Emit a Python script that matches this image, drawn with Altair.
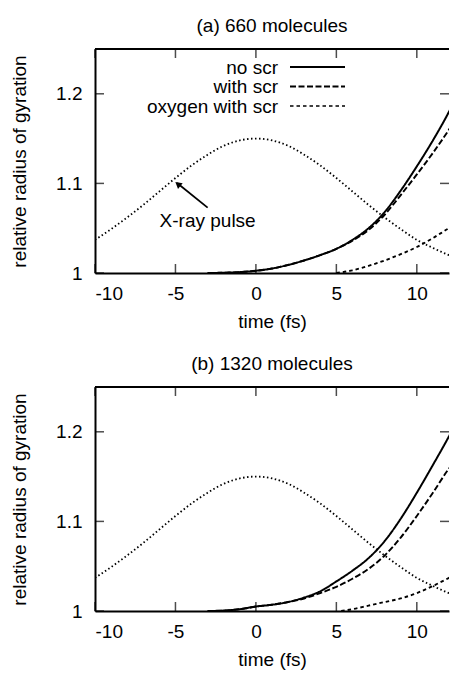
import altair as alt
import pandas as pd

FONT = "Liberation Sans"
FS = 19

# ---------------- data ----------------
PULSE_T = [-10, -9, -8, -7, -6, -5, -4, -3, -2, -1, 0, 1, 2, 3, 4, 5, 6, 7, 8, 9, 10, 11, 12, 12.5]
PULSE_R = [1.037, 1.049, 1.062, 1.076, 1.091, 1.106, 1.120, 1.132, 1.142, 1.148, 1.150, 1.148,
           1.142, 1.132, 1.120, 1.106, 1.091, 1.076, 1.062, 1.049, 1.037, 1.028, 1.020, 1.017]

T_MAIN = [-3, -2, -1, 0, 1, 2, 3, 4, 5, 6, 7, 8, 9, 10, 11, 12, 12.5]
A_NOSCR = [1.000, 1.0003, 1.001, 1.0025, 1.005, 1.009, 1.014, 1.020, 1.027, 1.037, 1.050, 1.068,
           1.092, 1.119, 1.148, 1.180, 1.198]
A_SCR = [1.000, 1.0003, 1.001, 1.0025, 1.005, 1.009, 1.014, 1.020, 1.027, 1.036, 1.048, 1.065,
         1.087, 1.110, 1.134, 1.160, 1.174]
A_OXY_T = [5, 6, 7, 8, 9, 10, 11, 12, 12.5]
A_OXY = [1.000, 1.003, 1.008, 1.014, 1.021, 1.029, 1.039, 1.050, 1.055]

B_NOSCR = [1.000, 1.0005, 1.002, 1.005, 1.007, 1.010, 1.015, 1.022, 1.033, 1.045, 1.059, 1.078,
           1.103, 1.132, 1.163, 1.195, 1.212]
B_SCR = [1.000, 1.0005, 1.002, 1.005, 1.007, 1.010, 1.014, 1.020, 1.027, 1.036, 1.047, 1.062,
         1.082, 1.106, 1.132, 1.159, 1.170]
B_OXY_T = [5.3, 6, 7, 8, 9, 10, 11, 12, 12.5]
B_OXY = [1.000, 1.002, 1.006, 1.010, 1.014, 1.020, 1.028, 1.037, 1.042]

SERIES = ["no scr", "with scr", "oxygen with scr", "X-ray pulse"]
TITLES = ["(a) 660 molecules", "(b) 1320 molecules"]
XTICKS = [-10, -5, 0, 5, 10]
YTICKS = [1.0, 1.1, 1.2]

# annotation (top panel)
ANN_LABEL = "X-ray pulse"
ANN_TEXT = {"t": -3.0, "r": 1.058}
ANN_ARROW = {"t": -3.0, "r": 1.073, "t2": -4.9, "r2": 1.1005}
ANN_HEAD = {"t": -4.8, "r": 1.0985}

# ---------------- styling ----------------
DASHES = [[1, 0], [6, 2.5], [3.5, 3], [1.5, 2.5]]
WIDTHS = [2.0, 1.8, 1.6, 1.5]
W, H = 354, 224


def long_df(parts):
    rows = []
    for name, ts, rs in parts:
        for t, r in zip(ts, rs):
            rows.append({"series": name, "t": t, "r": r})
    return pd.DataFrame(rows)


xscale = alt.Scale(domain=[-10, 12], nice=False, zero=False)
yscale = alt.Scale(domain=[1, 1.25], nice=False, zero=False)


def make_panel(title, df, with_legend):
    x = alt.X("t:Q", scale=xscale,
              axis=alt.Axis(values=XTICKS, title="time (fs)",
                            labelExpr="toString(datum.value)",
                            labelPadding=11, titlePadding=9.5))
    y = alt.Y("r:Q", scale=yscale,
              axis=alt.Axis(values=YTICKS, title="relative radius of gyration",
                            format=".1~f", labelPadding=13, titlePadding=26))
    lines = alt.Chart(df).mark_line(color="black", clip=True, interpolate="monotone",
                                    strokeCap="butt").encode(
        x=x, y=y,
        strokeDash=alt.StrokeDash("series:N", scale=alt.Scale(domain=SERIES, range=DASHES), legend=None),
        strokeWidth=alt.StrokeWidth("series:N", scale=alt.Scale(domain=SERIES, range=WIDTHS), legend=None),
    )
    xt = pd.DataFrame({"t": XTICKS})
    yt = pd.DataFrame({"r": YTICKS})
    one = pd.DataFrame({"k": [0]})
    tick_kw = dict(size=9, thickness=1.5, color="black")
    bt = alt.Chart(xt).mark_tick(orient="vertical", **tick_kw).encode(
        x="t:Q", y=alt.value(H - 4.5))
    tt = alt.Chart(xt).mark_tick(orient="vertical", **tick_kw).encode(
        x="t:Q", y=alt.value(4.5))
    lt = alt.Chart(yt).mark_tick(orient="horizontal", **tick_kw).encode(
        y="r:Q", x=alt.value(4.5))
    rt = alt.Chart(yt).mark_tick(orient="horizontal", **tick_kw).encode(
        y="r:Q", x=alt.value(W - 4.5))
    top_line = alt.Chart(one).mark_rule(color="black", strokeWidth=2).encode(
        x=alt.value(0), x2=alt.value(W), y=alt.value(0))
    layers = [lines, bt, tt, lt, rt, top_line]
    if with_legend:
        for i, name in enumerate(SERIES[:3]):
            yy = 18 + 19.5 * i
            layers.append(alt.Chart(pd.DataFrame({"label": [name]})).mark_text(
                align="right", baseline="alphabetic", font=FONT, fontSize=FS, color="black").encode(
                text="label:N", x=alt.value(183), y=alt.value(yy + 6.5)))
            layers.append(alt.Chart(one).mark_rule(
                color="black", strokeDash=DASHES[i], strokeWidth=WIDTHS[i]).encode(
                x=alt.value(195), x2=alt.value(250), y=alt.value(yy)))
        ann = pd.DataFrame([{"label": ANN_LABEL, **ANN_TEXT}])
        layers.append(alt.Chart(ann).mark_text(font=FONT, fontSize=FS, color="black",
                                               baseline="middle").encode(
            x="t:Q", y="r:Q", text="label:N"))
        arr = pd.DataFrame([ANN_ARROW])
        layers.append(alt.Chart(arr).mark_rule(color="black", strokeWidth=1.8).encode(
            x="t:Q", y="r:Q", x2="t2:Q", y2="r2:Q"))
        head = pd.DataFrame([ANN_HEAD])
        layers.append(alt.Chart(head).mark_point(shape="triangle", angle=309, size=55, filled=True,
                                                 color="black", opacity=1).encode(
            x="t:Q", y="r:Q"))
    return alt.layer(*layers).properties(
        width=W, height=H,
        title=alt.TitleParams(title, font=FONT, fontSize=FS, fontWeight="normal", color="black",
                              anchor="middle", frame="group", offset=12.5),
    )


df_a = long_df([(SERIES[0], T_MAIN, A_NOSCR), (SERIES[1], T_MAIN, A_SCR),
                (SERIES[2], A_OXY_T, A_OXY), (SERIES[3], PULSE_T, PULSE_R)])
df_b = long_df([(SERIES[0], T_MAIN, B_NOSCR), (SERIES[1], T_MAIN, B_SCR),
                (SERIES[2], B_OXY_T, B_OXY), (SERIES[3], PULSE_T, PULSE_R)])

chart = alt.vconcat(make_panel(TITLES[0], df_a, True), make_panel(TITLES[1], df_b, False),
                    spacing=22).properties(
    padding={"left": 2, "top": 8, "right": 0, "bottom": 0}
).configure(font=FONT).configure_view(stroke=None).configure_axis(
    labelFont=FONT, labelFontSize=FS, labelColor="black",
    titleFont=FONT, titleFontSize=FS, titleFontWeight="normal", titleColor="black",
    domainColor="black", domainWidth=2, ticks=False, grid=False,
)

chart.save("out.html", embed_options={"renderer": "svg", "actions": False})
